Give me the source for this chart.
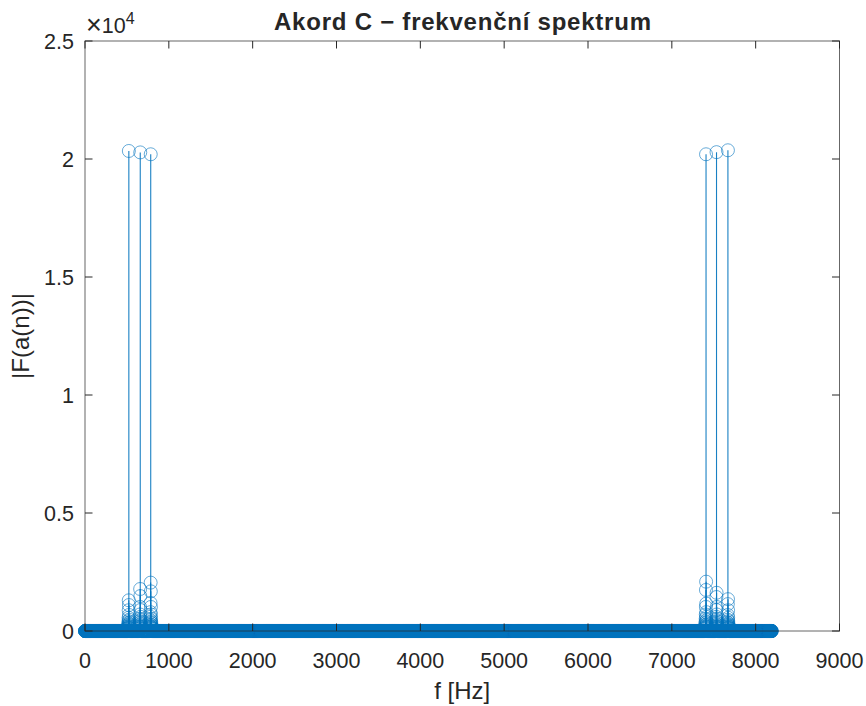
<!doctype html>
<html>
    <head>
        <script src="https://d3js.org/d3.v7.min.js"></script>
        <style>
            body,
            html {
                margin: 0;
                padding: 0;
                overflow: hidden;
                background: #fff;
            }
            text {
                font-family: "Liberation Sans", Arial, sans-serif;
                fill: #262626;
            }
        </style>
    </head>
    <body>
        <script>
            // FFT bins: 8192 samples at fs = 8192 Hz -> 1 Hz per bin, all ~0 except near the chord notes
            const binCount = 8192;

            // main peaks (C5, E5, G5 and their mirror images)
            const peakFreqs = [523, 659, 784, 7408, 7533, 7669];
            const peakMags = [20340, 20280, 20200, 20200, 20290, 20370];

            // leakage around each peak: bin offset from the peak and magnitude
            const leakOffsets = [-1, 1, -2, 2, -3, 3, -4, 4, -5, 5, -6, 6, -8, 8, -10, 10, -13, 13, -17, 17, -22, 22];
            const leakMags = [
                [1300, 1100, 880, 680, 560, 480, 420, 370, 330, 300, 270, 250, 220, 200, 180, 160, 140, 130, 110, 100, 90, 80],
                [1780, 1480, 1020, 890, 700, 600, 520, 460, 410, 370, 330, 300, 260, 240, 210, 190, 170, 150, 130, 120, 100, 90],
                [2050, 1680, 1190, 1020, 800, 700, 600, 520, 460, 410, 370, 340, 290, 260, 230, 210, 180, 160, 140, 130, 110, 100],
                [1740, 2090, 1020, 1160, 700, 800, 520, 600, 410, 460, 340, 370, 260, 290, 210, 230, 160, 180, 130, 140, 100, 110],
                [1440, 1620, 890, 1020, 600, 700, 460, 520, 370, 410, 300, 330, 240, 260, 190, 210, 150, 170, 120, 130, 90, 100],
                [1140, 1350, 680, 880, 480, 560, 370, 420, 300, 330, 250, 270, 200, 220, 160, 180, 130, 140, 100, 110, 80, 90],
            ];

            const xTicks = [0, 1000, 2000, 3000, 4000, 5000, 6000, 7000, 8000, 9000];
            const yTicks = [0, 5000, 10000, 15000, 20000, 25000];

            const width = 866;
            const height = 706;
            const margin = { top: 41, right: 26.5, bottom: 75, left: 85 };

            // build the spectrum
            const mags = new Array(binCount).fill(0);
            peakFreqs.forEach((f, i) => {
                mags[f] = peakMags[i];
                leakOffsets.forEach((o, j) => {
                    mags[f + o] = leakMags[i][j];
                });
            });
            const data = mags.map((m, f) => ({ f, m }));

            const svg = d3
                .create("svg")
                .attr("width", width)
                .attr("height", height)
                .attr("viewBox", [0, 0, width, height]);

            const x = d3
                .scaleLinear()
                .domain([0, 9000])
                .range([margin.left, width - margin.right]);
            const y = d3
                .scaleLinear()
                .domain([0, 25000])
                .range([height - margin.bottom, margin.top]);

            const blue = "#0072BD";

            // stems (only non-zero ones are visible)
            svg.append("g")
                .attr("stroke", blue)
                .attr("stroke-width", 1.1)
                .attr("stroke-opacity", 0.9)
                .selectAll("line")
                .data(data.filter((d) => d.m > 0))
                .join("line")
                .attr("x1", (d) => x(d.f))
                .attr("x2", (d) => x(d.f))
                .attr("y1", y(0))
                .attr("y2", (d) => y(d.m));

            // circle markers
            svg.append("g")
                .attr("fill", "none")
                .attr("stroke", blue)
                .attr("stroke-width", 0.8)
                .attr("stroke-opacity", 0.75)
                .selectAll("circle")
                .data(data)
                .join("circle")
                .attr("cx", (d) => x(d.f))
                .attr("cy", (d) => y(d.m))
                .attr("r", 6.5);

            // axes box
            const axisColor = "#262626";
            const x0 = margin.left,
                x1 = width - margin.right,
                y0 = height - margin.bottom,
                y1 = margin.top;
            const box = svg
                .append("g")
                .attr("stroke", axisColor)
                .attr("stroke-width", 1)
                .attr("fill", "none");
            box.append("rect")
                .attr("x", x0)
                .attr("y", y1)
                .attr("width", x1 - x0)
                .attr("height", y0 - y1)
                .attr("stroke-opacity", 0.7);

            // inward ticks on all four sides
            const tl = 7.5;
            xTicks.forEach((t) => {
                box.append("line").attr("x1", x(t)).attr("x2", x(t)).attr("y1", y0).attr("y2", y0 - tl);
                box.append("line").attr("x1", x(t)).attr("x2", x(t)).attr("y1", y1).attr("y2", y1 + tl);
            });
            yTicks.forEach((t) => {
                box.append("line").attr("x1", x0).attr("x2", x0 + tl).attr("y1", y(t)).attr("y2", y(t));
                box.append("line").attr("x1", x1).attr("x2", x1 - tl).attr("y1", y(t)).attr("y2", y(t));
            });

            // tick labels
            svg.append("g")
                .selectAll("text")
                .data(xTicks)
                .join("text")
                .attr("x", (d) => x(d))
                .attr("y", 668)
                .attr("text-anchor", "middle")
                .attr("font-size", 21.5)
                .text((d) => d);

            svg.append("g")
                .selectAll("text")
                .data(yTicks)
                .join("text")
                .attr("x", 74)
                .attr("y", (d) => y(d))
                .attr("dy", "0.36em")
                .attr("text-anchor", "end")
                .attr("font-size", 21.5)
                .text((d) => d / 10000);

            // exponent
            const ex = svg.append("text").attr("x", 86).attr("y", 33).attr("font-size", 21.5);
            ex.append("tspan").attr("font-size", 27).attr("dy", 1).text("×");
            ex.append("tspan").attr("dy", -1).text("10");
            ex.append("tspan").attr("dy", -9).attr("font-size", 16).text("4");

            // title and labels
            svg.append("text")
                .attr("x", 274)
                .attr("y", 30)
                .attr("font-size", 24)
                .attr("font-weight", "bold")
                .attr("textLength", 377)
                .attr("lengthAdjust", "spacing")
                .attr("fill", "#000")
                .text("Akord C − frekvenční spektrum");

            svg.append("text")
                .attr("x", (x0 + x1) / 2)
                .attr("y", 699)
                .attr("text-anchor", "middle")
                .attr("font-size", 24)
                .text("f [Hz]");

            svg.append("text")
                .attr("transform", `translate(29, ${(y0 + y1) / 2}) rotate(-90)`)
                .attr("text-anchor", "middle")
                .attr("font-size", 24)
                .text("|F(a(n))|");

            document.body.appendChild(svg.node());
        </script>
    </body>
</html>
